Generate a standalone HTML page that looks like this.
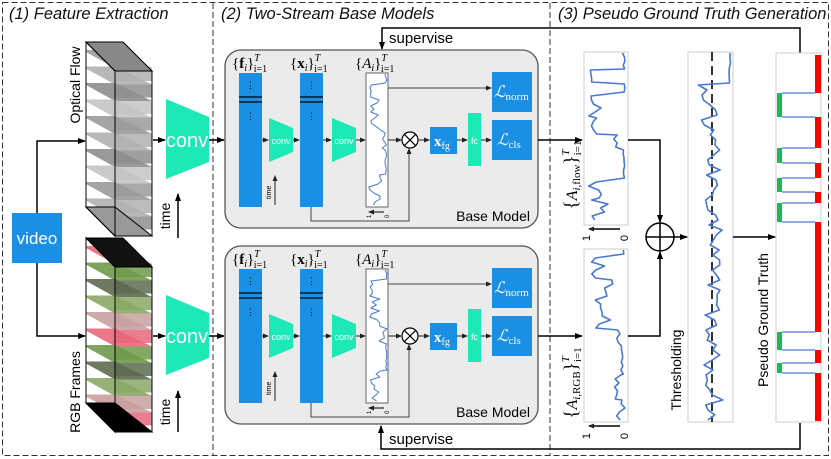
<!DOCTYPE html>
<html><head><meta charset="utf-8"><style>
html,body{margin:0;padding:0;background:#fff;}
svg{display:block;font-family:"Liberation Sans",sans-serif;}
</style></head><body>
<svg id="s" width="831" height="459" viewBox="0 0 831 459" xmlns="http://www.w3.org/2000/svg">
<defs>
<marker id="ar" markerWidth="8" markerHeight="8" refX="7" refY="4" orient="auto" markerUnits="userSpaceOnUse"><path d="M0,1 L8,4 L0,7 Z" fill="#000"/></marker>
<marker id="as" markerWidth="6" markerHeight="6" refX="5" refY="3" orient="auto" markerUnits="userSpaceOnUse"><path d="M0,0.5 L6,3 L0,5.5 Z" fill="#222"/></marker>
</defs>
<rect x="2.5" y="2.5" width="826" height="453" fill="none" stroke="#333" stroke-dasharray="6 3"/>
<line x1="213" y1="3" x2="213" y2="455" stroke="#333" stroke-dasharray="6 3"/>
<line x1="550" y1="3" x2="550" y2="455" stroke="#333" stroke-dasharray="6 3"/>
<g font-style="italic" font-size="16.5" fill="#111">
<text x="9" y="19">(1) Feature Extraction</text>
<text x="221" y="19">(2) Two-Stream Base Models</text>
<text x="558" y="19">(3) Pseudo Ground Truth Generation</text>
</g>
<rect x="12" y="213" width="50" height="50" fill="#1a8fe3"/>
<text x="37" y="244" font-size="17" fill="#fff" text-anchor="middle">video</text>
<polyline points="37,213 37,141 85,141" fill="none" stroke="#000" stroke-width="1.5" marker-end="url(#ar)"/>
<polyline points="37,263 37,336 85,336" fill="none" stroke="#000" stroke-width="1.5" marker-end="url(#ar)"/>
<g id="cubes"></g>
<text transform="translate(80,85) rotate(-90)" font-size="14" text-anchor="middle">Optical Flow</text>
<text transform="translate(80,392) rotate(-90)" font-size="14" text-anchor="middle">RGB Frames</text>
<line x1="153" y1="140" x2="165" y2="140" stroke="#000" stroke-width="1.5" marker-end="url(#ar)"/>
<polygon points="166,99 209,117 209,162 166,179" fill="#1de9b6"/>
<text x="187" y="147" font-size="20" fill="#fff" text-anchor="middle">conv</text>
<line x1="209" y1="140" x2="224" y2="140" stroke="#000" stroke-width="1.5" marker-end="url(#ar)"/>
<line x1="153" y1="336" x2="165" y2="336" stroke="#000" stroke-width="1.5" marker-end="url(#ar)"/>
<polygon points="166,295 209,313 209,358 166,375" fill="#1de9b6"/>
<text x="187" y="343" font-size="20" fill="#fff" text-anchor="middle">conv</text>
<line x1="209" y1="336" x2="224" y2="336" stroke="#000" stroke-width="1.5" marker-end="url(#ar)"/>
<line x1="178" y1="238" x2="178" y2="194" stroke="#000" stroke-width="1.5" marker-end="url(#ar)"/>
<text transform="translate(170,216) rotate(-90)" font-size="14" text-anchor="middle">time</text>
<line x1="178" y1="432" x2="178" y2="391" stroke="#000" stroke-width="1.5" marker-end="url(#ar)"/>
<text transform="translate(170,412) rotate(-90)" font-size="14" text-anchor="middle">time</text>
<polyline points="800,53 800,28 382,28 382,49" fill="none" stroke="#000" stroke-width="1.5" marker-end="url(#ar)"/>
<text x="389" y="43" font-size="15">supervise</text>
<polyline points="800,423 800,449 381,449 381,426" fill="none" stroke="#000" stroke-width="1.5" marker-end="url(#ar)"/>
<text x="389" y="444" font-size="15">supervise</text>
<g id="models"></g>
<rect x="584" y="52" width="44" height="173" fill="#fff" stroke="#ccc"/>
<rect x="584" y="249" width="44" height="173" fill="#fff" stroke="#ccc"/>
<rect x="688" y="52" width="45" height="370" fill="#fff" stroke="#ccc"/>
<rect x="776" y="53" width="45" height="369" fill="#fff" stroke="#ccc"/>
<line x1="712" y1="52" x2="712" y2="422" stroke="#000" stroke-width="1.6" stroke-dasharray="9 5"/>
<g id="pgt"></g>
<g id="wig"></g>
<polyline points="628,140 660,140 660,222" fill="none" stroke="#000" stroke-width="1.5" marker-end="url(#ar)"/>
<polyline points="628,336 660,336 660,252" fill="none" stroke="#000" stroke-width="1.5" marker-end="url(#ar)"/>
<circle cx="660" cy="237" r="14" fill="#fff" stroke="#000" stroke-width="1.5"/>
<line x1="646" y1="237" x2="674" y2="237" stroke="#000" stroke-width="1.5"/>
<line x1="660" y1="223" x2="660" y2="251" stroke="#000" stroke-width="1.5"/>
<line x1="674" y1="237" x2="687" y2="237" stroke="#000" stroke-width="1.5" marker-end="url(#ar)"/>
<line x1="733" y1="237" x2="775" y2="237" stroke="#000" stroke-width="1.5" marker-end="url(#ar)"/>
<text transform="translate(681,370) rotate(-90)" font-size="14" text-anchor="middle">Thresholding</text>
<text transform="translate(768,320) rotate(-90)" font-size="14" text-anchor="middle">Pseudo Ground Truth</text>
<g font-family="Liberation Serif" font-size="16">
<text transform="translate(577,175) rotate(-90)" text-anchor="middle"><tspan font-size="19">{</tspan><tspan font-style="italic">A</tspan><tspan font-size="11" dy="3"><tspan font-style="italic">i</tspan>,flow</tspan><tspan dy="-3" font-size="19">}</tspan><tspan font-size="11" dy="-8" font-style="italic">T</tspan><tspan font-size="11" dx="-6" dy="12">i=1</tspan></text>
<text transform="translate(577,383) rotate(-90)" text-anchor="middle"><tspan font-size="19">{</tspan><tspan font-style="italic">A</tspan><tspan font-size="11" dy="3"><tspan font-style="italic">i</tspan>,RGB</tspan><tspan dy="-3" font-size="19">}</tspan><tspan font-size="11" dy="-8" font-style="italic">T</tspan><tspan font-size="11" dx="-6" dy="12">i=1</tspan></text>
</g>
<g font-size="11">
<line x1="620" y1="229" x2="589" y2="229" stroke="#000" stroke-width="1.4" marker-end="url(#as)"/>
<text transform="translate(590,238) rotate(-90)" text-anchor="middle">1</text>
<text transform="translate(628,238) rotate(-90)" text-anchor="middle">0</text>
<line x1="620" y1="426" x2="589" y2="426" stroke="#000" stroke-width="1.4" marker-end="url(#as)"/>
<text transform="translate(590,436) rotate(-90)" text-anchor="middle">1</text>
<text transform="translate(628,436) rotate(-90)" text-anchor="middle">0</text>
</g>
</svg>
<script>
var NS="http://www.w3.org/2000/svg";
function el(p,t,a,txt){var e=document.createElementNS(NS,t);for(var k in a)e.setAttribute(k,a[k]);if(txt)e.textContent=txt;p.appendChild(e);return e;}
var seed=7;function rnd(){seed=(seed*16807)%2147483647;return seed/2147483647;}
var cg=document.getElementById('cubes');
function cube(y0,top,cols,dark){
  el(cg,'polygon',{points:"86,"+y0+" 115,"+(y0+29)+" 115,"+(y0+194)+" 86,"+(y0+165),fill:"#fff",stroke:"#000"});
  el(cg,'polygon',{points:"115,"+(y0+29)+" 152,"+(y0+29)+" 152,"+(y0+194)+" 115,"+(y0+194),fill:"#fff",stroke:"#000"});
  for(var i=0;i<10;i++){var y=y0+10+i*16.5;var c=cols[i%cols.length];
    el(cg,'polygon',{points:"86,"+y+" 115,"+(y+16)+" 152,"+(y+16)+" 115,"+(y-2)+" 86,"+(y-2),fill:c,opacity:0.9});
    el(cg,'polygon',{points:"115,"+(y+16)+" 152,"+(y+16)+" 152,"+(y+29)+" 115,"+(y+29),fill:cols[(i+1)%cols.length],opacity:0.85});}
  el(cg,'polygon',{points:"86,"+y0+" 123,"+y0+" 152,"+(y0+29)+" 115,"+(y0+29),fill:top,stroke:"#000"});
  el(cg,'polygon',{points:"86,"+(y0+165)+" 115,"+(y0+194)+" 152,"+(y0+194)+" 115,"+(y0+165),fill:dark?"#000":"#999",stroke:"#000"});
  el(cg,'polygon',{points:"86,"+y0+" 115,"+(y0+29)+" 115,"+(y0+194)+" 86,"+(y0+165),fill:"none",stroke:"#000"});
  el(cg,'polygon',{points:"115,"+(y0+29)+" 152,"+(y0+29)+" 152,"+(y0+194)+" 115,"+(y0+194),fill:"none",stroke:"#000"});
}
cube(42,"#888",["#9a9a9a","#b0b0b0","#8e8e8e","#c4c4c4"],false);
cube(238,"#111",["#e8677a","#6f9a4a","#5d6b50","#8aa866","#c9a0a0"],true);
var mg=document.getElementById('models');
function wig(g,x0,x1,y0,y1,segs,w,st){st=st||3.5;var pts=[];for(var s=0;s<segs.length;s++){var sg=segs[s];
  for(var y=sg[0];y<sg[1];y+=st){var v=sg[2]+(rnd()-0.5)*sg[3];v=Math.max(0,Math.min(1,v));pts.push((x0+v*(x1-x0)).toFixed(1)+","+y.toFixed(1));}}
  el(g,'polyline',{points:pts.join(" "),fill:"none",stroke:"#4a78d0","stroke-width":w||1.2,"stroke-linejoin":"round"});}
function model(dy){
  var g=el(mg,'g',{transform:"translate(0,"+dy+")"});
  el(g,'rect',{x:225,y:50,width:313,height:178,rx:16,fill:"#ebebeb",stroke:"#555","stroke-width":1.3});
  function lab(x,txt,b){var t=el(g,'text',{x:x,y:68,"font-family":"Liberation Serif","font-size":15});
    t.innerHTML='{<tspan '+(b?'font-weight="bold"':'font-style="italic"')+'>'+txt+'</tspan><tspan font-size="10" font-style="italic" dy="3">i</tspan><tspan dy="-3">}</tspan><tspan font-size="10" font-style="italic" dy="-7">T</tspan><tspan font-size="10" dx="-6" dy="11">i=1</tspan>';}
  lab(232,"f",true);lab(290,"x",true);lab(355,"A",false);
  [239,300].forEach(function(x){el(g,'rect',{x:x,y:73,width:23,height:134,fill:"#1a8fe3"});
    el(g,'line',{x1:x,y1:97,x2:x+23,y2:97,stroke:"#000","stroke-width":1.2});el(g,'line',{x1:x,y1:102,x2:x+23,y2:102,stroke:"#000","stroke-width":1.2});
    el(g,'text',{x:x+11.5,y:88,"font-size":9,fill:"#000","text-anchor":"middle"},"⋮");el(g,'text',{x:x+11.5,y:119,"font-size":9,fill:"#000","text-anchor":"middle"},"⋮");});
  [269,332].forEach(function(x){el(g,'polygon',{points:x+",118 "+(x+24)+",128 "+(x+24)+",152 "+x+",162",fill:"#1de9b6"});
    el(g,'text',{x:x+12,y:144,"font-size":9,fill:"#fff","text-anchor":"middle"},"conv");});
  [[262,268],[293,299],[323,331],[356,365],[388,401]].forEach(function(p){el(g,'line',{x1:p[0],y1:140,x2:p[1],y2:140,stroke:"#222","stroke-width":1,"marker-end":"url(#as)"});});
  el(g,'line',{x1:275,y1:205,x2:275,y2:176,stroke:"#222","stroke-width":1,"marker-end":"url(#as)"});
  el(g,'text',{transform:"translate(271,199) rotate(-90)","font-size":7},"time");
  el(g,'rect',{x:366,y:73,width:22,height:134,fill:"#fff",stroke:"#666"});
  seed=dy?91:33;
  wig(g,367,387,74,206,[[74,85,0.95,0.1],[85,100,0.2,0.2],[100,130,0.4,0.6],[130,150,0.8,0.4],[150,175,0.95,0.1],[175,206,0.4,0.7]],1,3);
  el(g,'line',{x1:384,y1:212,x2:369,y2:212,stroke:"#000","stroke-width":1,"marker-end":"url(#as)"});
  el(g,'text',{transform:"translate(371,218) rotate(-90)","font-size":6},"1");
  el(g,'text',{transform:"translate(389,218) rotate(-90)","font-size":6},"0");
  el(g,'polyline',{points:"388,88 491,88",fill:"none",stroke:"#444","stroke-width":1,"marker-end":"url(#as)"});
  el(g,'polyline',{points:"311,207 311,221 409,221 409,149",fill:"none",stroke:"#444","stroke-width":1,"marker-end":"url(#as)"});
  el(g,'circle',{cx:410,cy:140,r:8,fill:"#fff",stroke:"#000","stroke-width":1.2});
  el(g,'line',{x1:404.3,y1:134.3,x2:415.7,y2:145.7,stroke:"#000","stroke-width":1.2});
  el(g,'line',{x1:415.7,y1:134.3,x2:404.3,y2:145.7,stroke:"#000","stroke-width":1.2});
  [[418,429],[457,467],[481,491]].forEach(function(p){el(g,'line',{x1:p[0],y1:140,x2:p[1],y2:140,stroke:"#222","stroke-width":1,"marker-end":"url(#as)"});});
  el(g,'rect',{x:430,y:127,width:27,height:27,fill:"#1a8fe3"});
  var t=el(g,'text',{x:434,y:146,"font-family":"Liberation Serif","font-size":15,fill:"#fff"});t.innerHTML='<tspan font-weight="bold">x</tspan><tspan font-size="10" dy="3">fg</tspan>';
  el(g,'rect',{x:468,y:113,width:13,height:53,fill:"#1de9b6"});
  el(g,'text',{x:474.5,y:144,"font-size":9,fill:"#fff","text-anchor":"middle"},"fc");
  el(g,'rect',{x:492,y:72,width:40,height:40,fill:"#1a8fe3"});
  el(g,'rect',{x:492,y:120,width:40,height:40,fill:"#1a8fe3"});
  t=el(g,'text',{x:494,y:97,"font-family":"Liberation Serif","font-size":16,fill:"#fff","font-style":"italic"});t.innerHTML='ℒ<tspan font-size="11" font-style="normal" dy="3">norm</tspan>';
  t=el(g,'text',{x:497,y:145,"font-family":"Liberation Serif","font-size":16,fill:"#fff","font-style":"italic"});t.innerHTML='ℒ<tspan font-size="11" font-style="normal" dy="3">cls</tspan>';
  el(g,'text',{x:530,y:221,"font-size":14,"text-anchor":"end"},"Base Model");
  el(g,'line',{x1:538,y1:140,x2:582,y2:140,stroke:"#000","stroke-width":1.5,"marker-end":"url(#ar)"});
}
model(0);model(196);
var wg=document.getElementById('wig');
seed=5;
wig(wg,586,626,53,224,[[53,70,0.95,0.08],[70,84,0.15,0.1],[84,96,0.95,0.05],[96,118,0.3,0.5],[118,135,0.2,0.15],[135,150,0.75,0.2],[150,182,0.95,0.05],[182,200,0.2,0.4],[200,224,0.3,0.6]],1.6,4);
wig(wg,586,626,250,421,[[250,258,0.95,0.05],[258,280,0.3,0.5],[280,300,0.5,0.5],[300,330,0.35,0.6],[330,350,0.8,0.2],[350,375,0.9,0.1],[375,400,0.8,0.2],[400,421,0.85,0.25]],1.6,4);
wig(wg,690,731,53,421,[[53,85,0.97,0.04],[85,110,0.35,0.35],[110,150,0.5,0.45],[150,200,0.6,0.45],[200,260,0.6,0.45],[260,320,0.55,0.4],[320,380,0.5,0.45],[380,421,0.6,0.45]],1.6,5);
var pg=document.getElementById('pgt');
var segs=[[55,93,'r'],[93,117,'g'],[117,148,'r'],[148,163,'g'],[163,178,'r'],[178,192,'g'],[192,203,'r'],[203,222,'g'],[222,332,'r'],[332,350,'g'],[350,363,'r'],[363,373,'g'],[373,421,'r']];
segs.forEach(function(s){if(s[2]=='r')el(pg,'rect',{x:815,y:s[0],width:6,height:s[1]-s[0],fill:"#f00"});else{el(pg,'rect',{x:777,y:s[0],width:5,height:s[1]-s[0],fill:"#1db954"});
  el(pg,'line',{x1:782,y1:s[0],x2:815,y2:s[0],stroke:"#4a78d0","stroke-width":1.2});el(pg,'line',{x1:782,y1:s[1],x2:815,y2:s[1],stroke:"#4a78d0","stroke-width":1.2});}});
</script>
</body></html>
